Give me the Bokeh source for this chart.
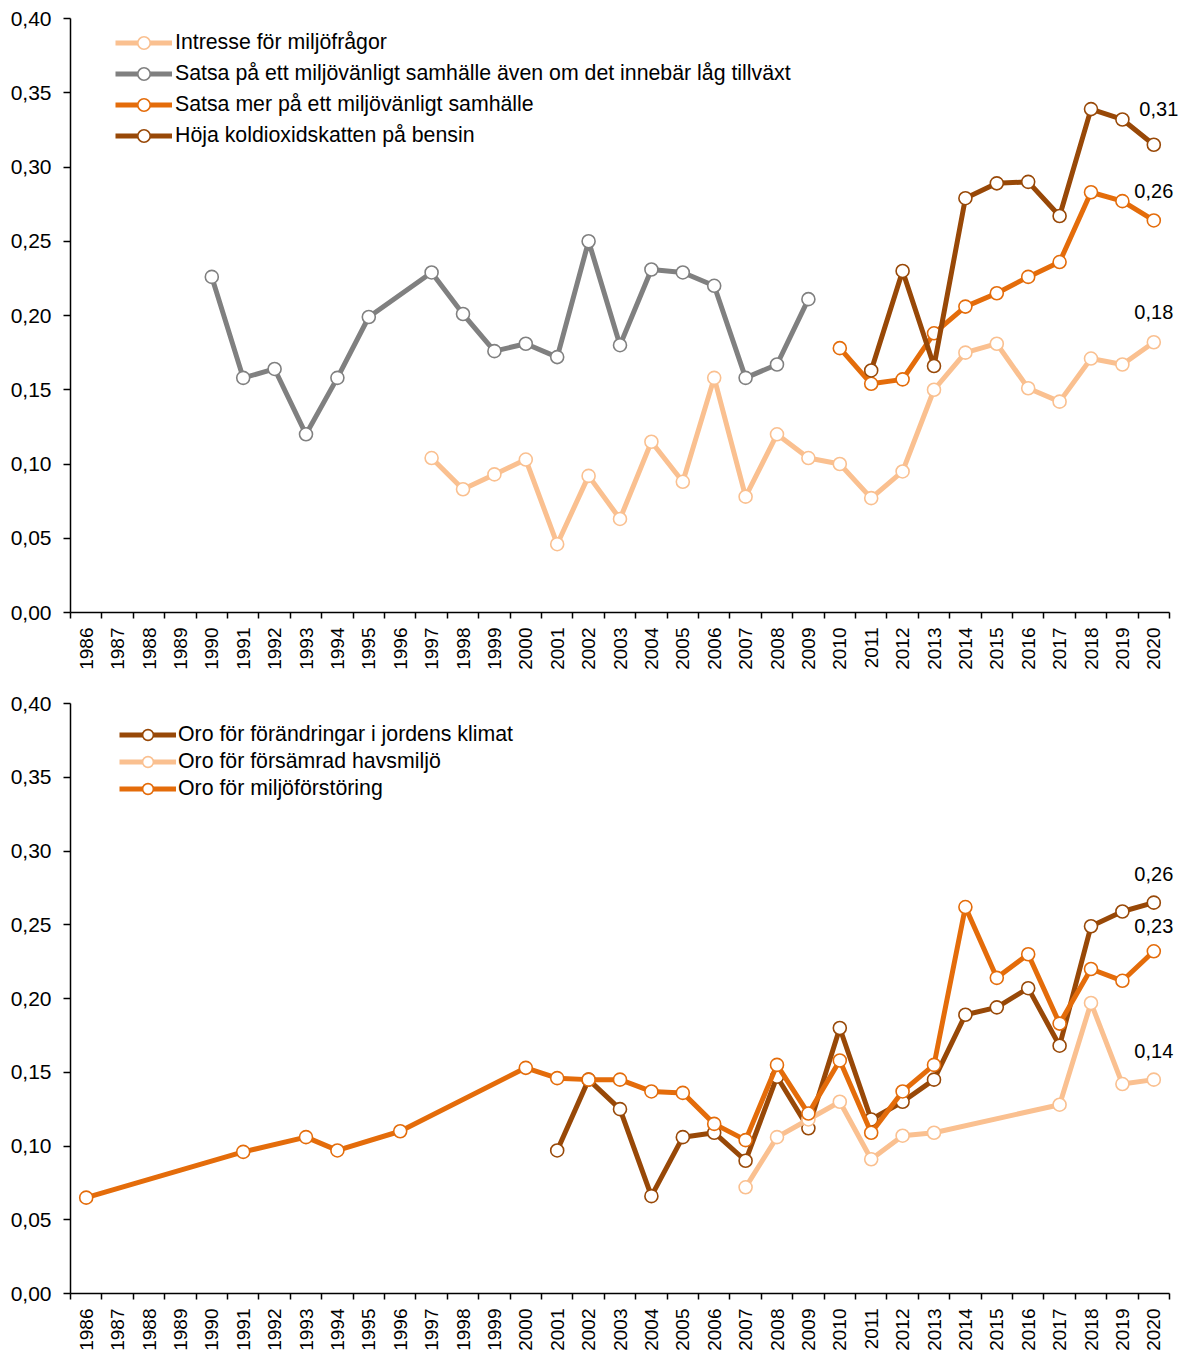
import math
from bokeh.plotting import figure
from bokeh.models import Range1d, FixedTicker, Label
from bokeh.layouts import column
from bokeh.embed import file_html
from bokeh.resources import INLINE

# ---------------- data ----------------
years = list(range(1986, 2021))
year_labels = [str(y) for y in years]

y_ticks = [0.0, 0.05, 0.10, 0.15, 0.20, 0.25, 0.30, 0.35, 0.40]
y_tick_labels = ["0,00", "0,05", "0,10", "0,15", "0,20", "0,25", "0,30", "0,35", "0,40"]

# top chart
intresse_years = list(range(1997, 2021))
intresse_vals = [0.104, 0.083, 0.093, 0.103, 0.046, 0.092, 0.063, 0.115, 0.088, 0.158,
                 0.078, 0.120, 0.104, 0.100, 0.077, 0.095, 0.150, 0.175, 0.181, 0.151,
                 0.142, 0.171, 0.167, 0.182]

lag_years = [1990, 1991, 1992, 1993, 1994, 1995, 1997, 1998, 1999, 2000, 2001, 2002,
             2003, 2004, 2005, 2006, 2007, 2008, 2009]
lag_vals = [0.226, 0.158, 0.164, 0.120, 0.158, 0.199, 0.229, 0.201, 0.176, 0.181, 0.172,
            0.250, 0.180, 0.231, 0.229, 0.220, 0.158, 0.167, 0.211]

satsa_years = list(range(2010, 2021))
satsa_vals = [0.178, 0.154, 0.157, 0.188, 0.206, 0.215, 0.226, 0.236, 0.283, 0.277, 0.264]

koldioxid_years = list(range(2011, 2021))
koldioxid_vals = [0.163, 0.230, 0.166, 0.279, 0.289, 0.290, 0.267, 0.339, 0.332, 0.315]

top_names = ["Intresse för miljöfrågor",
             "Satsa på ett miljövänligt samhälle även om det innebär låg tillväxt",
             "Satsa mer på ett miljövänligt samhälle",
             "Höja koldioxidskatten på bensin"]
top_end_labels = {"Intresse för miljöfrågor": "0,18",
                  "Satsa mer på ett miljövänligt samhälle": "0,26",
                  "Höja koldioxidskatten på bensin": "0,31"}

# bottom chart
klimat_years = list(range(2001, 2021))
klimat_vals = [0.097, 0.145, 0.125, 0.066, 0.106, 0.109, 0.090, 0.147, 0.112, 0.180,
               0.118, 0.130, 0.145, 0.189, 0.194, 0.207, 0.168, 0.249, 0.259, 0.265]

hav_years = [2007, 2008, 2009, 2010, 2011, 2012, 2013, 2017, 2018, 2019, 2020]
hav_vals = [0.072, 0.106, 0.118, 0.130, 0.091, 0.107, 0.109, 0.128, 0.197, 0.142, 0.145]

miljo_years = [1986, 1991, 1993, 1994, 1996] + list(range(2000, 2021))
miljo_vals = [0.065, 0.096, 0.106, 0.097, 0.110, 0.153, 0.146, 0.145, 0.145, 0.137,
              0.136, 0.115, 0.104, 0.155, 0.122, 0.158, 0.109, 0.137, 0.155, 0.262,
              0.214, 0.230, 0.183, 0.220, 0.212, 0.232]

bottom_names = ["Oro för förändringar i jordens klimat",
                "Oro för försämrad havsmiljö",
                "Oro för miljöförstöring"]
bottom_end_labels = {"Oro för förändringar i jordens klimat": "0,26",
                     "Oro för försämrad havsmiljö": "0,14",
                     "Oro för miljöförstöring": "0,23"}

# ---------------- style ----------------
LIGHT = "#FAC090"
GREY = "#808080"
ORANGE = "#E46C0A"
DARK = "#984807"
FONT = "Liberation Sans"

AXIS_W = 1099          # pixel width covered by the year categories
EXTRA_W = 12           # room on the right for the end-value labels
FRAME_W = AXIS_W + EXTRA_W


def make_fig(frame_h, top_border, bottom_border):
    n = len(years)
    x_end = n * FRAME_W / AXIS_W
    p = figure(frame_width=FRAME_W, frame_height=frame_h,
               min_border_left=70, min_border_right=0,
               min_border_top=top_border, min_border_bottom=bottom_border,
               x_range=Range1d(0, x_end), y_range=Range1d(0, 0.40),
               toolbar_location=None, output_backend="svg", tools="")
    p.outline_line_color = None
    p.xgrid.visible = False
    p.ygrid.visible = False
    p.background_fill_color = "white"
    p.border_fill_color = "white"

    ya = p.yaxis[0]
    ya.ticker = FixedTicker(ticks=y_ticks)
    ya.major_label_overrides = dict(zip(y_ticks, y_tick_labels))
    ya.major_tick_out = 7
    ya.major_tick_in = 0
    ya.minor_tick_out = 0
    ya.minor_tick_in = 0
    ya.axis_line_width = 1.5
    ya.major_tick_line_width = 1.5
    ya.axis_line_color = "black"
    ya.major_tick_line_color = "black"
    ya.major_label_text_font = FONT
    ya.major_label_text_font_size = "21px"
    ya.major_label_text_color = "black"
    ya.major_label_standoff = 12

    xa = p.xaxis[0]
    centers = [i + 0.5 for i in range(n)]
    xa.bounds = (0, n)
    xa.ticker = FixedTicker(ticks=centers, minor_ticks=list(range(n + 1)))
    xa.major_label_overrides = dict(zip(centers, year_labels))
    xa.major_label_orientation = math.pi / 2
    xa.major_tick_out = 0
    xa.major_tick_in = 0
    xa.minor_tick_out = 6
    xa.minor_tick_in = 0
    xa.minor_tick_line_width = 1.5
    xa.minor_tick_line_color = "black"
    xa.axis_line_width = 1.5
    xa.axis_line_color = "black"
    xa.major_label_text_font = FONT
    xa.major_label_text_font_size = "19px"
    xa.major_label_text_color = "black"
    xa.major_label_standoff = 9
    return p


def add_series(p, yrs, vals, color, name, end_labels, offsets):
    xs = [years.index(y) + 0.5 for y in yrs]
    p.line(xs, vals, line_color=color, line_width=5, legend_label=name)
    p.scatter(xs, vals, marker="circle", size=13, fill_color="white",
              line_color=color, line_width=1.6, legend_label=name)
    if name in end_labels:
        dx, dy = offsets.get(name, (0, 29))
        p.add_layout(Label(x=xs[-1], y=vals[-1], text=end_labels[name],
                           x_offset=dx, y_offset=dy, text_align="center",
                           text_baseline="middle", text_font=FONT,
                           text_font_size="20px", text_color="black"))


def style_legend(p, loc, row_h, standoff):
    lg = p.legend[0]
    lg.location = loc
    lg.border_line_color = None
    lg.background_fill_alpha = 0
    lg.padding = 0
    lg.margin = 0
    lg.spacing = 0
    lg.glyph_width = 57
    lg.glyph_height = row_h
    lg.label_height = row_h
    lg.label_standoff = standoff
    lg.label_text_font = FONT
    lg.label_text_font_size = "21.3px"
    lg.label_text_color = "black"


# ---------------- top chart ----------------
p1 = make_fig(594, 18, 66)
top_offsets = {"Höja koldioxidskatten på bensin": (5, 36),
               "Satsa mer på ett miljövänligt samhälle": (0, 29),
               "Intresse för miljöfrågor": (0, 30)}
add_series(p1, intresse_years, intresse_vals, LIGHT, top_names[0], top_end_labels, top_offsets)
add_series(p1, lag_years, lag_vals, GREY, top_names[1], top_end_labels, top_offsets)
add_series(p1, satsa_years, satsa_vals, ORANGE, top_names[2], top_end_labels, top_offsets)
add_series(p1, koldioxid_years, koldioxid_vals, DARK, top_names[3], top_end_labels, top_offsets)
style_legend(p1, (45, 461), 31, 3)

# ---------------- bottom chart ----------------
p2 = make_fig(590, 25, 58)
bottom_offsets = {"Oro för förändringar i jordens klimat": (0, 29),
                  "Oro för miljöförstöring": (0, 25),
                  "Oro för försämrad havsmiljö": (0, 29)}
add_series(p2, klimat_years, klimat_vals, DARK, bottom_names[0], bottom_end_labels, bottom_offsets)
add_series(p2, hav_years, hav_vals, LIGHT, bottom_names[1], bottom_end_labels, bottom_offsets)
add_series(p2, miljo_years, miljo_vals, ORANGE, bottom_names[2], bottom_end_labels, bottom_offsets)
style_legend(p2, (49, 491), 27, 2)

layout = column(p1, p2, spacing=0)
open("out.html", "w").write(file_html(layout, INLINE))
